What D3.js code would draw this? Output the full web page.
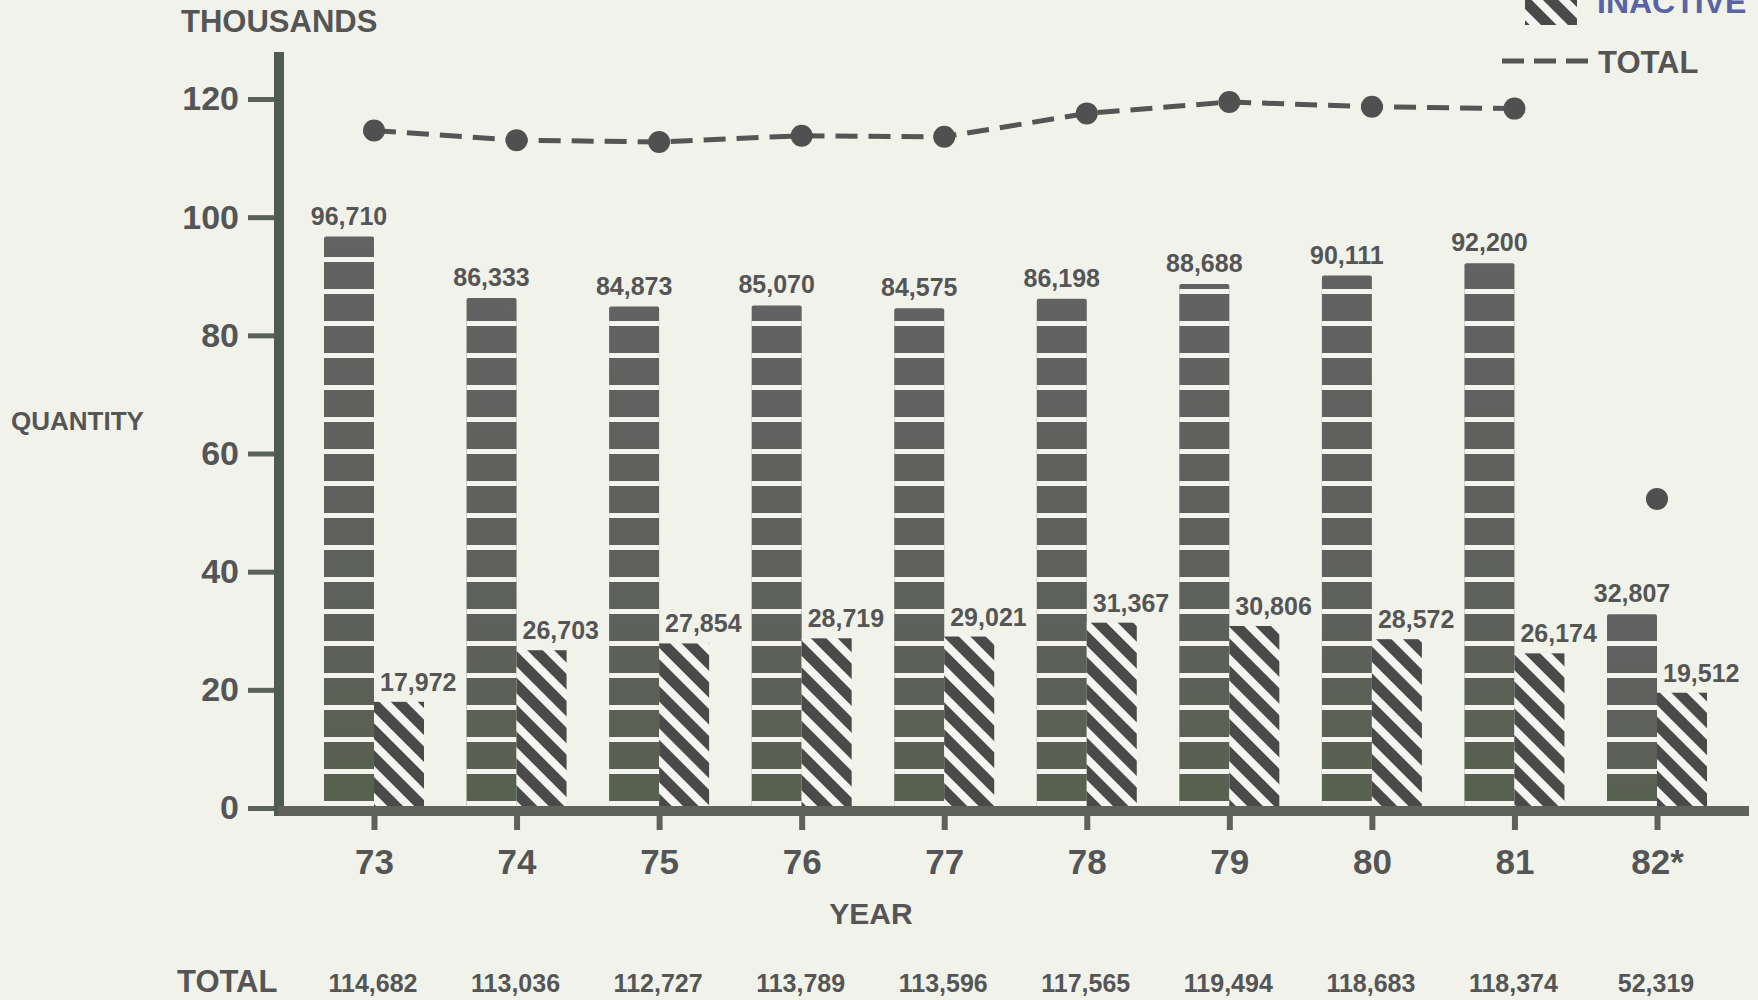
<!DOCTYPE html>
<html>
<head>
<meta charset="utf-8">
<script src="https://cdn.jsdelivr.net/npm/d3@7"></script>
<style>
  html, body { margin: 0; padding: 0; background: #f1f3eb; }
  svg { display: block; }
  text { font-family: "Liberation Sans", Arial, sans-serif; font-weight: bold; }
</style>
</head>
<body>
<svg id="chart" width="1758" height="1000"></svg>
<script>
// ---------- data ----------
const years    = ["73", "74", "75", "76", "77", "78", "79", "80", "81", "82*"];
const active   = [96710, 86333, 84873, 85070, 84575, 86198, 88688, 90111, 92200, 32807];
const inactive = [17972, 26703, 27854, 28719, 29021, 31367, 30806, 28572, 26174, 19512];
const totals   = [114682, 113036, 112727, 113789, 113596, 117565, 119494, 118683, 118374, 52319];
const yTicks   = [0, 20, 40, 60, 80, 100, 120];
const lineYears = ["73", "74", "75", "76", "77", "78", "79", "80", "81"];

// ---------- setup ----------
const W = 1758, H = 1000;
const svg = d3.select("#chart");
const textColor = "#555555";
const fmt = d3.format(",");

svg.append("rect").attr("width", W).attr("height", H).attr("fill", "#f1f3eb");

const defs = svg.append("defs");
// active bar gradient
const grad = defs.append("linearGradient").attr("id", "actGrad")
  .attr("x1", 0).attr("y1", 0).attr("x2", 0).attr("y2", 1);
grad.append("stop").attr("offset", "0%").attr("stop-color", "#626262");
grad.append("stop").attr("offset", "60%").attr("stop-color", "#5e605c");
grad.append("stop").attr("offset", "100%").attr("stop-color", "#58614f");
// white horizontal stripes
const stripe = defs.append("pattern").attr("id", "stripes")
  .attr("patternUnits", "userSpaceOnUse").attr("width", 60).attr("height", 32)
  .attr("y", 808 % 32 - 7);
stripe.append("rect").attr("x", 0).attr("y", 0).attr("width", 60).attr("height", 5).attr("fill", "#f4f5ef");
// diagonal hatch
const hatch = defs.append("pattern").attr("id", "hatch")
  .attr("patternUnits", "userSpaceOnUse").attr("width", 19).attr("height", 19)
  .attr("patternTransform", "rotate(45)");
hatch.append("rect").attr("width", 19).attr("height", 19).attr("fill", "#f4f5f0");
hatch.append("rect").attr("x", 0).attr("y", 0).attr("width", 19).attr("height", 11).attr("fill", "#4a4a4a");

// ---------- scales ----------
const y = d3.scaleLinear().domain([0, 120]).range([808, 99]);
const x = d3.scalePoint().domain(years).range([374, 1657]);
const barW = 50;

// ---------- bars ----------
const g = svg.append("g");
years.forEach((yr, i) => {
  const cx = x(yr);
  const ya = y(active[i] / 1000);
  g.append("rect").attr("x", cx - barW).attr("y", ya).attr("width", barW)
    .attr("height", y(0) - ya).attr("fill", "url(#actGrad)").attr("rx", 2);
  g.append("rect").attr("x", cx - barW).attr("y", ya).attr("width", barW)
    .attr("height", y(0) - ya).attr("fill", "url(#stripes)");
  const yi = y(inactive[i] / 1000);
  g.append("rect").attr("x", cx).attr("y", yi).attr("width", barW)
    .attr("height", y(0) - yi).attr("fill", "url(#hatch)");

  g.append("text").attr("x", cx - barW / 2).attr("y", ya - 12)
    .attr("text-anchor", "middle").attr("font-size", 25).attr("fill", textColor)
    .text(fmt(active[i]));
  g.append("text").attr("x", cx + 6).attr("y", yi - 11)
    .attr("text-anchor", "start").attr("font-size", 25).attr("fill", textColor)
    .text(fmt(inactive[i]));
});

// ---------- axes ----------
const axisLeft = 274;
// y axis line
svg.append("rect").attr("x", axisLeft).attr("y", 52).attr("width", 10)
  .attr("height", y(0) + 8 - 52).attr("fill", "#4f5b50");
const yAxis = svg.append("g").attr("transform", `translate(${axisLeft},0)`)
  .call(d3.axisLeft(y).tickValues(yTicks).tickSize(26).tickPadding(9).tickFormat(d => d));
yAxis.select(".domain").remove();
yAxis.selectAll(".tick line").attr("stroke", "#5a605a").attr("stroke-width", 5);
yAxis.selectAll(".tick text").attr("font-size", 34).attr("fill", textColor)
  .attr("font-family", "Liberation Sans, Arial, sans-serif").attr("font-weight", "bold");

// x axis line
const xBase = y(0) + 8;
svg.append("rect").attr("x", axisLeft + 4).attr("y", xBase - 10).attr("width", 1749 - axisLeft - 4)
  .attr("height", 10).attr("fill", "#5e625b");
const xAxis = svg.append("g").attr("transform", `translate(0,${xBase})`)
  .call(d3.axisBottom(x).tickSize(14).tickPadding(19));
xAxis.select(".domain").remove();
xAxis.selectAll(".tick line").attr("stroke", "#5e625b").attr("stroke-width", 6);
xAxis.selectAll(".tick text").attr("font-size", 35).attr("fill", textColor)
  .attr("font-family", "Liberation Sans, Arial, sans-serif").attr("font-weight", "bold");

// ---------- total line ----------
const lineData = lineYears.map(yr => ({ x: x(yr), y: y(totals[years.indexOf(yr)] / 1000) }));
svg.append("path")
  .attr("d", d3.line().x(d => d.x).y(d => d.y)(lineData))
  .attr("fill", "none").attr("stroke", "#555").attr("stroke-width", 5)
  .attr("stroke-dasharray", "22,11");
svg.selectAll("circle.tot").data(years).enter().append("circle")
  .attr("class", "tot")
  .attr("cx", d => x(d)).attr("cy", (d, i) => y(totals[i] / 1000))
  .attr("r", 11).attr("fill", "#505050");

// ---------- titles ----------
svg.append("text").attr("x", 181).attr("y", 32).attr("font-size", 31).attr("fill", textColor).text("THOUSANDS");
svg.append("text").attr("x", 11).attr("y", 430).attr("font-size", 26).attr("fill", textColor).text("QUANTITY");
svg.append("text").attr("x", 871).attr("y", 924).attr("text-anchor", "middle").attr("font-size", 30).attr("fill", textColor).text("YEAR");

// ---------- totals row ----------
svg.append("text").attr("x", 177).attr("y", 992)
  .attr("font-size", 31).attr("fill", textColor).text("TOTAL");
years.forEach((yr, i) => {
  svg.append("text").attr("x", x(yr) - 1).attr("y", 992)
    .attr("text-anchor", "middle").attr("font-size", 25).attr("fill", textColor)
    .text(fmt(totals[i]));
});

// ---------- legend ----------
svg.append("rect").attr("x", 1525).attr("y", -25).attr("width", 52).attr("height", 50).attr("fill", "url(#hatch)");
svg.append("text").attr("x", 1597).attr("y", 13).attr("font-size", 32).attr("fill", "#5a62a8").text("INACTIVE");
svg.append("line").attr("x1", 1502).attr("x2", 1590).attr("y1", 61).attr("y2", 61)
  .attr("stroke", "#555").attr("stroke-width", 5).attr("stroke-dasharray", "22,10");
svg.append("text").attr("x", 1598).attr("y", 73).attr("font-size", 31).attr("fill", textColor).text("TOTAL");
</script>
</body>
</html>
